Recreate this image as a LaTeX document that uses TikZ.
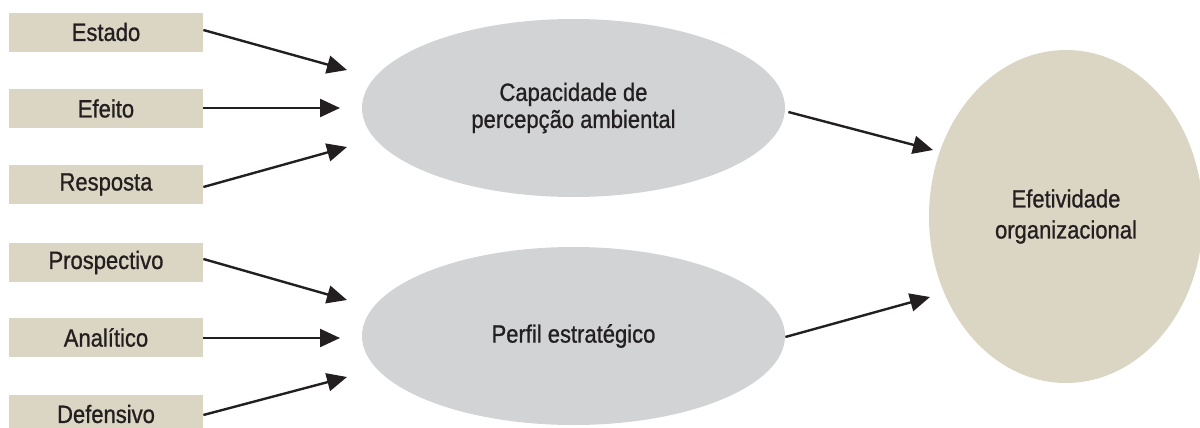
\documentclass[tikz,border=0pt]{standalone}
\usepackage{fontspec}
\setmainfont{Liberation Sans}[FakeStretch=0.88,FakeBold=0.9]
\usetikzlibrary{shapes.geometric,arrows.meta}
\definecolor{beige}{HTML}{DBD6C3}
\definecolor{lgray}{HTML}{D1D3D4}
\definecolor{ink}{HTML}{231F20}
\begin{document}
\begin{tikzpicture}[x=0.5pt,y=-0.5pt,
  lbox/.style={fill=beige,draw=none,minimum width=97pt,minimum height=19.5pt,inner sep=0pt,text=ink,font=\fontsize{12.5}{13.5}\selectfont},
  gell/.style={ellipse,fill=lgray,draw=none,minimum width=211.5pt,minimum height=89pt,inner sep=0pt,text=ink,align=center,font=\fontsize{12.5}{13.5}\selectfont},
  bell/.style={ellipse,fill=beige,draw=none,minimum width=137pt,minimum height=166.5pt,inner sep=0pt,text=ink,align=center,font=\fontsize{12.5}{15.5}\selectfont},
  arr/.style={draw=ink,line width=1.2pt,-{Triangle[length=10pt,width=9pt]}}]
\useasboundingbox (0,0) rectangle (1200,428);
\node[lbox] (estado) at (106,32) {Estado};
\node[lbox] (efeito) at (106,108.5) {Efeito};
\node[lbox] (resposta) at (106,184.5) {Resposta};
\node[lbox] (prosp) at (106,262.5) {Prospectivo};
\node[lbox] (anal) at (106,337.5) {Analítico};
\node[lbox] (def) at (106,414) {Defensivo};
\node[gell] (cap) at (573.5,108) {Capacidade de\\percepção ambiental};
\node[gell] (perfil) at (573.5,336) {\raisebox{1.5pt}{Perfil estratégico}};
\node[bell] (efet) at (1066,216.5) {Efetividade\\organizacional};
\coordinate (t1) at (347,70);
\coordinate (t2) at (340,108);
\coordinate (t3) at (347,147);
\coordinate (t4) at (347,300);
\coordinate (t5) at (340,338);
\coordinate (t6) at (347,377);
\coordinate (t7) at (933,150);
\coordinate (t8) at (930,297);
\draw[arr] (estado.east |- 0,30) -- (t1);
\draw[arr] (efeito.east |- 0,108) -- (t2);
\draw[arr] (resposta.east |- 0,187) -- (t3);
\draw[arr] (prosp.east |- 0,259) -- (t4);
\draw[arr] (anal.east |- 0,338) -- (t5);
\draw[arr] (def.east |- 0,415) -- (t6);
\draw[arr] (cap.east |- 0,112) ++(3,0) -- (t7);
\draw[arr] (perfil.east |- 0,337) -- (t8);
\end{tikzpicture}
\end{document}
